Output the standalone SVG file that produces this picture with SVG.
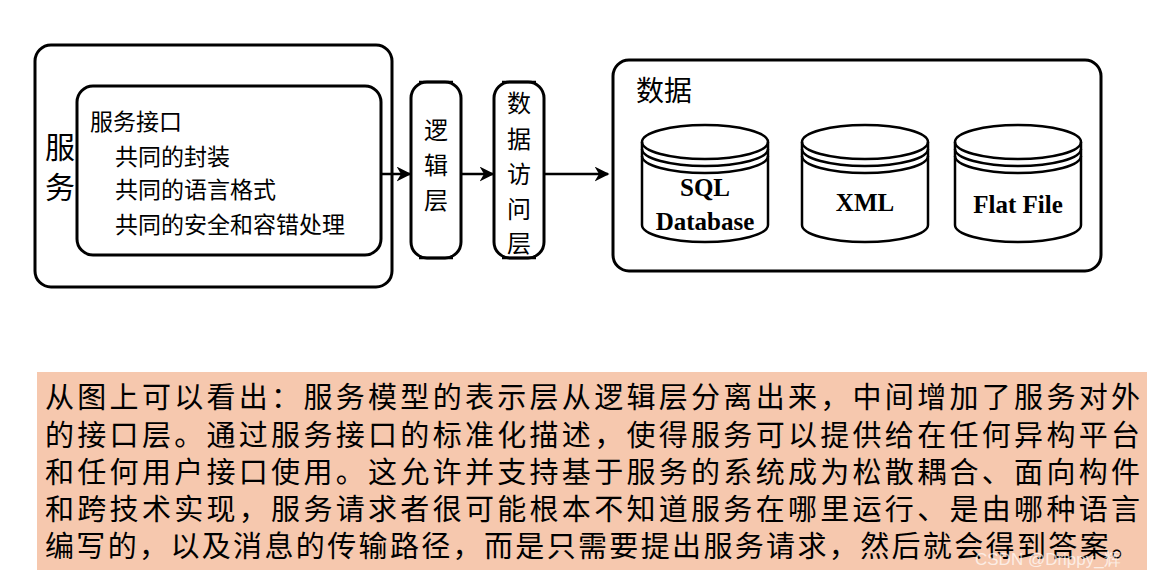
<svg xmlns="http://www.w3.org/2000/svg" width="1163" height="581" viewBox="0 0 1163 581">
<defs>
<style>
.b{fill:#fff;stroke:#000;stroke-width:3}
.c{fill:none;stroke:#000;stroke-width:2.5}
.t{font-family:"Noto Sans CJK SC","Noto Sans",sans-serif;fill:#000}
.e{font-family:"Liberation Serif",serif;font-weight:bold;font-size:25px;text-anchor:middle}
.l{stroke:#000;stroke-width:2.5;fill:none}
</style>
<marker id="a" viewBox="0 0 10 10" refX="9" refY="5" markerWidth="6" markerHeight="6" orient="auto"><path d="M0,0 L10,5 L0,10 L3,5 z" fill="#000"/></marker>
<g id="cyl"><path class="c" d="M0,17 A63,17 0 0 1 126,17 V100 A63,17 0 0 1 0,100 Z" fill="#fff"/><path class="c" d="M0,17 A63,17 0 0 0 126,17 M0,24 A63,17 0 0 0 126,24 M0,31 A63,17 0 0 0 126,31"/></g>
</defs>
<rect width="1163" height="581" fill="#fff"/>
<g id="service"><rect class="b" x="35" y="45" width="357" height="242" rx="16"/>
<text class="t" x="60" y="158" font-size="30" text-anchor="middle">服</text>
<text class="t" x="60" y="198" font-size="30" text-anchor="middle">务</text></g>
<g id="interface"><rect class="b" x="77" y="86" width="304" height="169" rx="16"/>
<text class="t" font-size="23"><tspan x="90" y="130">服务接口</tspan><tspan x="115" y="165">共同的封装</tspan><tspan x="115" y="198">共同的语言格式</tspan><tspan x="115" y="233">共同的安全和容错处理</tspan></text></g>
<g id="logic"><rect class="b" x="411" y="82" width="50" height="176" rx="16"/><path class="l" d="M419,82H453M419,258H453"/>
<text class="t" font-size="24" text-anchor="middle"><tspan x="436" y="139">逻</tspan><tspan x="436" y="174">辑</tspan><tspan x="436" y="209">层</tspan></text></g>
<g id="dal"><rect class="b" x="494" y="82" width="50" height="176" rx="16"/><path class="l" d="M502,82H536M502,258H536"/>
<text class="t" font-size="24" text-anchor="middle"><tspan x="519" y="112">数</tspan><tspan x="519" y="148">据</tspan><tspan x="519" y="183">访</tspan><tspan x="519" y="218">问</tspan><tspan x="519" y="252">层</tspan></text></g>
<g id="connectors" stroke="#000" stroke-width="2.5" marker-end="url(#a)">
<line x1="381" y1="174" x2="410" y2="174"/><line x1="461" y1="174" x2="493" y2="174"/><line x1="544" y1="174" x2="608" y2="174"/></g>
<g id="data"><rect class="b" x="613" y="60" width="488" height="211" rx="16"/>
<text class="t" x="636" y="101" font-size="28">数据</text></g>
<g id="sql"><use href="#cyl" x="642" y="125"/><text class="e" x="705" y="196">SQL</text><text class="e" x="705" y="230">Database</text></g>
<g id="xml"><use href="#cyl" x="802" y="125"/><text class="e" x="865" y="211">XML</text></g>
<g id="flat"><use href="#cyl" x="955" y="125"/><text class="e" x="1018" y="213">Flat File</text></g>
<g id="note"><rect x="37" y="372" width="1110" height="198" fill="#f6c8ae"/>
<text class="t" font-size="29" lengthAdjust="spacingAndGlyphs">
<tspan x="45" y="408" textLength="1095">从图上可以看出：服务模型的表示层从逻辑层分离出来，中间增加了服务对外</tspan>
<tspan x="45" y="446" textLength="1095">的接口层。通过服务接口的标准化描述，使得服务可以提供给在任何异构平台</tspan>
<tspan x="45" y="483" textLength="1095">和任何用户接口使用。这允许并支持基于服务的系统成为松散耦合、面向构件</tspan>
<tspan x="45" y="520" textLength="1095">和跨技术实现，服务请求者很可能根本不知道服务在哪里运行、是由哪种语言</tspan>
<tspan x="45" y="557" textLength="1095">编写的，以及消息的传输路径，而是只需要提出服务请求，然后就会得到答案。</tspan></text>
<text x="975" y="565" font-family="Liberation Sans,sans-serif" font-size="17" fill="#fff" fill-opacity="0.7">CSDN @Drippy_辉</text></g>
</svg>
